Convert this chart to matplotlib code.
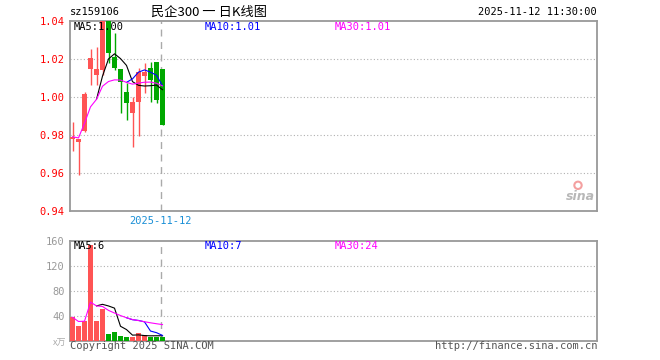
import matplotlib.pyplot as plt
import numpy as np
import pandas as pd

plt.rcParams['font.family'] = ['DejaVu Sans Mono', 'Noto Sans CJK SC']

# daily candles (oldest first)
opens = [0.9778, 0.9764, 0.982, 1.0146, 1.0115, 1.0141, 1.040, 1.0211,
         1.0146, 1.0027, 0.9913, 0.9974, 1.0108, 1.015, 1.0185, 1.0145]
closes = [0.979, 0.9778, 1.0015, 1.0206, 1.0145, 1.040, 1.0229, 1.015,
          1.008, 0.9966, 0.9974, 1.0132, 1.0132, 1.0088, 0.9983, 0.9852]
highs = [0.9866, 0.9778, 1.0025, 1.025, 1.026, 1.045, 1.045, 1.0334,
         1.0146, 1.0071, 1.000, 1.015, 1.018, 1.0185, 1.0185, 1.0145]
lows = [0.9715, 0.959, 0.9815, 1.006, 1.006, 1.0115, 1.018, 1.014,
        0.9913, 0.9877, 0.9738, 0.9794, 1.002, 0.9975, 0.9966, 0.985]
volumes = [37.5, 24, 32, 153, 32, 50, 11, 14.5, 8, 5.5, 5.5, 13, 9, 6, 6, 5.5]

price_ticks = [0.94, 0.96, 0.98, 1.00, 1.02, 1.04]
vol_ticks = [0, 40, 80, 120, 160]
price_ma_labels = ['MA5:1.00', 'MA10:1.01', 'MA30:1.01']
vol_ma_labels = ['MA5:6', 'MA10:7', 'MA30:24']

RED = '#ff5454'
GREEN = '#00a800'
MA_COLORS = ['black', '#0000ff', '#ff00ff']
BORDER = '#999999'

x = np.arange(len(closes))
o = np.array(opens)
c = np.array(closes)
up = c >= o
colors = [RED if u else GREEN for u in up]

cs = pd.Series(closes)
vs = pd.Series(volumes)
price_mas = [cs.rolling(5).mean(), cs.rolling(10).mean(), cs.expanding().mean()]
vol_mas = [vs.rolling(5).mean(), vs.rolling(10).mean(), vs.expanding().mean()]

fig = plt.figure(figsize=(6.6, 3.6), dpi=100)
ax1 = fig.add_axes([70 / 660, 1 - 211 / 360, 527 / 660, 190.3 / 360])
ax2 = fig.add_axes([70 / 660, 1 - 340.7 / 360, 527 / 660, 100 / 360])

xl = (-2.5 / 6, (597 - 72.5) / 6)
mark_x = (160.7 - 72.5) / 6

for ax in (ax1, ax2):
    ax.set_xlim(*xl)
    for s in ax.spines.values():
        s.set_color(BORDER)
        s.set_linewidth(1.3)
    ax.set_xticks([])
    ax.tick_params(axis='y', length=0, pad=4, labelsize=7.5)
    ax.axvline(mark_x, color='#aaaaaa', lw=1, ls=(0, (5, 4)), zorder=1)

# price panel
ax1.set_ylim(0.94, 1.04)
ax1.set_yticks(price_ticks)
ax1.set_yticklabels(['%.2f' % t for t in price_ticks], color='red')
for t in price_ticks[1:-1]:
    ax1.axhline(t, color='#b0b0b0', lw=0.8, ls=(0, (1, 2)), zorder=0)
ax1.vlines(x, lows, highs, colors=colors, lw=1, zorder=2)
ax1.bar(x, np.abs(c - o), bottom=np.minimum(o, c), width=0.83,
        color=colors, zorder=3)
for ma, col in zip(price_mas, MA_COLORS):
    ax1.plot(x, ma, color=col, lw=0.8, zorder=4)
for lab, col, px in zip(price_ma_labels, MA_COLORS, [74, 205, 335]):
    ax1.text((px - 72.5) / 6, 1.0365, lab, color=col, fontsize=7.5,
             va='center', ha='left', zorder=5)

# sina watermark
ax1.text((580 - 72.5) / 6, 0.9475, 'sina', color='#b8b8b8',
         fontsize=9, style='italic', weight='bold', ha='center', va='center',
         family='DejaVu Sans')
ax1.scatter([(578 - 72.5) / 6], [0.9535], s=28, facecolors='none',
            edgecolors='#f4a0a0', linewidths=1.5, zorder=1)

# volume panel
ax2.set_ylim(0, 160)
ax2.set_yticks(vol_ticks[1:])
ax2.set_yticklabels([str(t) for t in vol_ticks[1:]], color='#999999')
for t in vol_ticks[1:-1]:
    ax2.axhline(t, color='#b0b0b0', lw=0.8, ls=(0, (1, 2)), zorder=0)
ax2.bar(x, volumes, width=0.83, color=colors, zorder=3)
for ma, col in zip(vol_mas, MA_COLORS):
    ax2.plot(x, ma, color=col, lw=0.8, zorder=4)
for lab, col, px in zip(vol_ma_labels, MA_COLORS, [74, 205, 335]):
    ax2.text((px - 72.5) / 6, 151, lab, color=col, fontsize=7.5,
             va='center', ha='left', zorder=5)

# header / footer texts
fig.text(70 / 660, 1 - 12 / 360, 'sz159106', fontsize=7.5, va='center', ha='left')
fig.text(209 / 660, 1 - 12 / 360, '民企300 一 日K线图', fontsize=9.5,
         va='center', ha='center', family=['Noto Sans CJK SC', 'DejaVu Sans'])
fig.text(597 / 660, 1 - 12 / 360, '2025-11-12 11:30:00', fontsize=7.5,
         va='center', ha='right')
fig.text(160.7 / 660, 1 - 221 / 360, '2025-11-12', fontsize=7.5,
         va='center', ha='center', color='#1a8fd6')
fig.text(66 / 660, 1 - 343 / 360, 'x万', fontsize=6.5, va='center', ha='right',
         color='#aaaaaa', family=['Noto Sans CJK SC', 'DejaVu Sans'])
fig.text(70 / 660, 1 - 346 / 360, 'Copyright 2025 SINA.COM', fontsize=7.5,
         va='center', ha='left', color='#555555')
fig.text(597 / 660, 1 - 346 / 360, 'http://finance.sina.com.cn', fontsize=7.5,
         va='center', ha='right', color='#555555')

fig.savefig('out.png', dpi=100)
